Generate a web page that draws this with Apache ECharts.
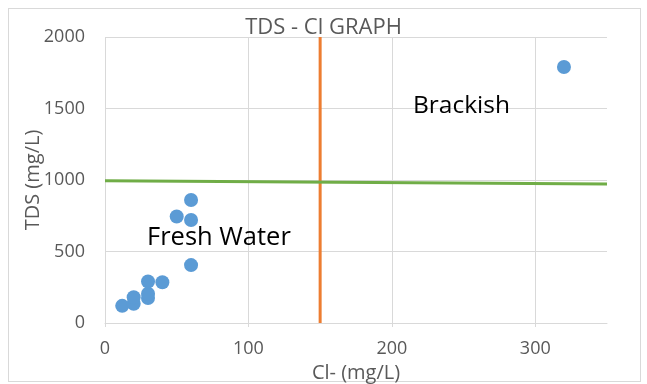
<!DOCTYPE html>
<html>
<head>
<meta charset="utf-8">
<script src="https://cdn.jsdelivr.net/npm/echarts@6/dist/echarts.min.js"></script>
<style>
  html, body { margin: 0; padding: 0; background: #fff; }
  #frame { position: absolute; left: 8px; top: 8px; width: 633px; height: 374px; border: 1px solid #d9d9d9; box-sizing: border-box; }
  #chart { position: absolute; left: 0; top: 0; width: 647px; height: 384px; }
</style>
</head>
<body>
<div id="frame"></div>
<div id="chart"></div>
<script>
// Water samples: chloride (mg/L) vs total dissolved solids (mg/L)
const chloride = [12, 20, 20, 30, 30, 30, 40, 50, 60, 60, 60, 320];
const tds      = [120, 135, 180, 175, 205, 290, 285, 745, 860, 720, 405, 1790];

// Classification boundaries
const clLimitX = [150, 150];
const clLimitY = [0, 2000];
const tdsLimitX = [0, 350];
const tdsLimitY = [995, 972];

const xTicks = [0, 100, 200, 300];
const yTicks = [0, 500, 1000, 1500, 2000];

const font = '"Open Sans", "Liberation Sans", sans-serif';
const grey = '#595959';
const gridGrey = '#d9d9d9';
const chart = echarts.init(document.getElementById('chart'));

chart.setOption({
  animation: false,
  title: {
    text: 'TDS - Cl GRAPH',
    left: 'center',
    top: 12,
    textStyle: { fontFamily: font, fontSize: 22, fontWeight: 'normal', color: grey }
  },
  grid: { left: 105, right: 40, top: 37, bottom: 61, containLabel: false, outerBoundsMode: 'none' },
  xAxis: {
    type: 'value', min: 0, max: 350, interval: 100,
    name: 'Cl- (mg/L)', nameLocation: 'middle', nameGap: 35,
    nameTextStyle: { fontFamily: font, fontSize: 20, color: grey },
    axisLine: { show: true, lineStyle: { color: gridGrey } },
    axisTick: { show: true, length: 4, lineStyle: { color: gridGrey } },
    axisLabel: {
      fontFamily: font, fontSize: 18, color: grey, margin: 17,
      showMaxLabel: false,
      formatter: v => xTicks.includes(v) ? String(v) : ''
    },
    splitLine: {
      show: true,
      lineStyle: { color: gridGrey, width: 1 },
      showMinLine: true, showMaxLine: false
    }
  },
  yAxis: {
    type: 'value', min: 0, max: 2000, interval: 500,
    name: 'TDS (mg/L)', nameLocation: 'middle', nameGap: 62, nameMoveOverlap: false,
    nameTextStyle: { fontFamily: font, fontSize: 20, color: grey },
    axisLine: { show: false },
    axisTick: { show: false },
    axisLabel: {
      fontFamily: font, fontSize: 18, color: grey, margin: 20,
      formatter: v => yTicks.includes(v) ? String(v) : ''
    },
    splitLine: { lineStyle: { color: gridGrey, width: 1 } }
  },
  series: [
    {
      type: 'line',
      data: clLimitX.map((x, i) => [x, clLimitY[i]]),
      symbol: 'none',
      lineStyle: { color: '#ED7D31', width: 3 },
      z: 3
    },
    {
      type: 'line',
      data: tdsLimitX.map((x, i) => [x, tdsLimitY[i]]),
      symbol: 'none',
      lineStyle: { color: '#70AD47', width: 3 },
      z: 4
    },
    {
      type: 'scatter',
      data: chloride.map((x, i) => [x, tds[i]]),
      symbol: 'circle',
      symbolSize: 14,
      itemStyle: { color: '#5B9BD5', opacity: 1 },
      z: 5
    }
  ],
  graphic: [
    {
      type: 'text', left: 413, top: 94, z: 10,
      style: { text: 'Brackish', fontFamily: font, fontSize: 24.5, fill: '#000' }
    },
    {
      type: 'text', left: 147, top: 225, z: 10,
      style: { text: 'Fresh Water', fontFamily: font, fontSize: 25.5, fill: '#000' }
    }
  ]
});
</script>
</body>
</html>
